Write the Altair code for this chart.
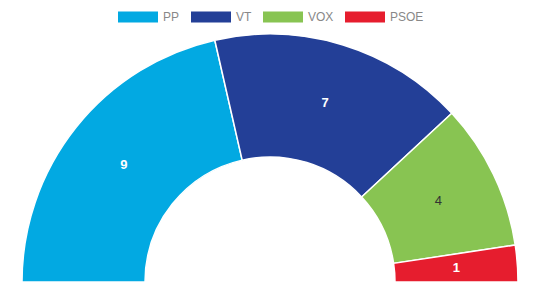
import math
import altair as alt
import pandas as pd

parties = ["PP", "VT", "VOX", "PSOE"]
seats = [9, 7, 4, 1]
colors = ["#02A9E2", "#233F97", "#88C452", "#E61D2E"]
label_colors = ["#ffffff", "#ffffff", "#333333", "#ffffff"]
label_bold = [True, True, False, True]

df = pd.DataFrame({
    "party": parties,
    "seats": seats,
    "order": list(range(len(parties))),
    "lcolor": label_colors,
    "bold": label_bold,
})

total = sum(seats)
theta_scale = alt.Scale(domain=[0, total], range=[1.5 * math.pi, 2.5 * math.pi])
color_scale = alt.Scale(domain=parties, range=colors)

CX, CY = 270, 282

base = alt.Chart(df).transform_window(
    cum="sum(seats)", sort=[alt.SortField("order")]
).transform_calculate(
    start="datum.cum - datum.seats",
    mid="datum.cum - datum.seats / 2",
)

arcs = base.mark_arc(
    outerRadius=248, innerRadius=125, stroke="white", strokeWidth=1.5
).encode(
    x=alt.value(CX),
    y=alt.value(CY),
    theta=alt.Theta("start:Q", scale=theta_scale),
    theta2="cum:Q",
    color=alt.Color(
        "party:N",
        scale=color_scale,
        sort=parties,
        legend=alt.Legend(
            title=None,
            orient="none",
            legendX=118,
            legendY=-3,
            direction="horizontal",
            symbolType="M-1,-0.27H1V0.27H-1Z",
            symbolSize=1600,
            symbolStrokeWidth=0,
            symbolOpacity=1,
            labelFont="Liberation Sans",
            labelFontSize=12,
            labelColor="#888888",
            labelOffset=5,
            columnPadding=11,
            symbolOffset=0,
        ),
    ),
)

def label_layer(bold):
    return base.transform_filter(
        alt.datum.bold if bold else ~alt.datum.bold
    ).mark_text(
        radius=187,
        fontSize=13,
        font="Liberation Sans",
        fontWeight="bold" if bold else "normal",
    ).encode(
        x=alt.value(CX),
        y=alt.value(CY),
        theta=alt.Theta("mid:Q", scale=theta_scale),
        text="seats:Q",
        fill=alt.Fill("lcolor:N", scale=None),
    )

chart = alt.layer(arcs, label_layer(True), label_layer(False)).properties(
    width=540,
    height=282,
    padding=0,
    autosize=alt.AutoSizeParams(type="none"),
).configure_view(stroke=None)

chart.save("out.html", embed_options={"renderer": "svg", "actions": False})
